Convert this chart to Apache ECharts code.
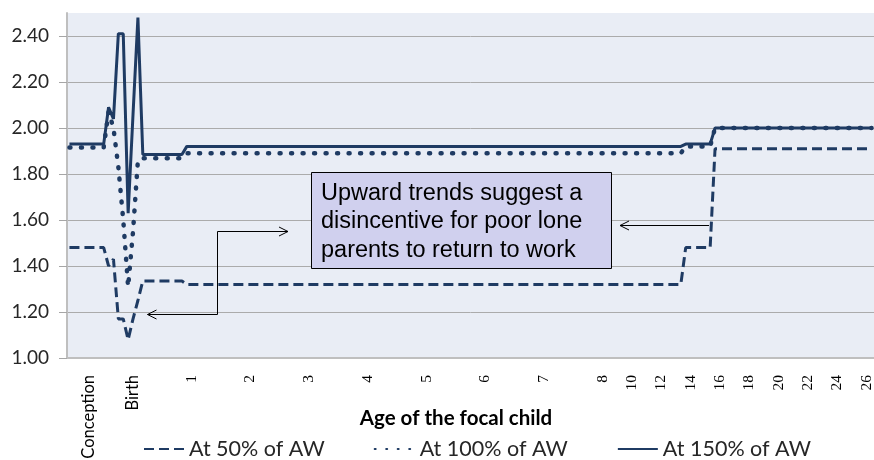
<!DOCTYPE html>
<html lang="en">
<head>
    <meta charset="UTF-8">
    <title>Age of the focal child</title>
    <script type="text/javascript" src="https://cdn.jsdelivr.net/npm/echarts@6/dist/echarts.min.js"></script>
    <style>
        html, body { margin: 0; padding: 0; background: #fff; }
        #main { width: 874px; height: 460px; }
    </style>
</head>
<body>
<div id="main"></div>
<script type="text/javascript">
    // x axis: one point a month up to age 8, then one every 4 months (ages in months from birth)
    var tickMonths = [-9, 0, 12, 24, 36, 48, 60, 72, 84, 96, 120, 144, 168, 192, 216, 240, 264, 288, 312];
    var tickLabels = ['Conception', 'Birth', '1', '2', '3', '4', '5', '6', '7', '8', '10', '12', '14', '16', '18', '20', '22', '24', '26'];

    var categories = [];
    for (var i = 0; i < 165; i++) {
        categories.push(String(i <= 109 ? i - 13 : 96 + (i - 109) * 4));
    }

    var at50 = [
        1.48, 1.48, 1.48, 1.48, 1.48, 1.48, 1.48, 1.48,
        1.40, 1.43, 1.17, 1.17, 1.08, 1.17, 1.25, 1.335,
        1.335, 1.335, 1.335, 1.335, 1.335, 1.335, 1.335, 1.335,
        1.32, 1.32, 1.32, 1.32, 1.32, 1.32, 1.32, 1.32, 1.32, 1.32, 1.32, 1.32, 1.32, 1.32, 1.32, 1.32, 1.32,
        1.32, 1.32, 1.32, 1.32, 1.32, 1.32, 1.32, 1.32, 1.32, 1.32, 1.32, 1.32, 1.32, 1.32, 1.32, 1.32, 1.32,
        1.32, 1.32, 1.32, 1.32, 1.32, 1.32, 1.32, 1.32, 1.32, 1.32, 1.32, 1.32, 1.32, 1.32, 1.32, 1.32, 1.32,
        1.32, 1.32, 1.32, 1.32, 1.32, 1.32, 1.32, 1.32, 1.32, 1.32, 1.32, 1.32, 1.32, 1.32, 1.32, 1.32, 1.32,
        1.32, 1.32, 1.32, 1.32, 1.32, 1.32, 1.32, 1.32, 1.32, 1.32, 1.32, 1.32, 1.32, 1.32, 1.32, 1.32, 1.32,
        1.32, 1.32, 1.32, 1.32, 1.32, 1.32, 1.32, 1.32, 1.32, 1.32, 1.32, 1.32, 1.32, 1.32, 1.32, 1.32, 1.32,
        1.48, 1.48, 1.48, 1.48, 1.48, 1.48,
        1.91, 1.91, 1.91, 1.91, 1.91, 1.91, 1.91, 1.91, 1.91, 1.91, 1.91,
        1.91, 1.91, 1.91, 1.91, 1.91, 1.91, 1.91, 1.91, 1.91, 1.91, 1.91,
        1.91, 1.91, 1.91, 1.91, 1.91, 1.91, 1.91, 1.91, 1.91, 1.91, 1.91
    ];

    var at100 = [
        1.915, 1.915, 1.915, 1.915, 1.915, 1.915, 1.915, 1.915,
        2.07, 2.00, 1.83, 1.60, 1.31, 1.55, 1.86, 1.868,
        1.868, 1.868, 1.868, 1.868, 1.868, 1.868, 1.868, 1.868,
        1.89, 1.89, 1.89, 1.89, 1.89, 1.89, 1.89, 1.89, 1.89, 1.89, 1.89, 1.89, 1.89, 1.89, 1.89, 1.89, 1.89,
        1.89, 1.89, 1.89, 1.89, 1.89, 1.89, 1.89, 1.89, 1.89, 1.89, 1.89, 1.89, 1.89, 1.89, 1.89, 1.89, 1.89,
        1.89, 1.89, 1.89, 1.89, 1.89, 1.89, 1.89, 1.89, 1.89, 1.89, 1.89, 1.89, 1.89, 1.89, 1.89, 1.89, 1.89,
        1.89, 1.89, 1.89, 1.89, 1.89, 1.89, 1.89, 1.89, 1.89, 1.89, 1.89, 1.89, 1.89, 1.89, 1.89, 1.89, 1.89,
        1.89, 1.89, 1.89, 1.89, 1.89, 1.89, 1.89, 1.89, 1.89, 1.89, 1.89, 1.89, 1.89, 1.89, 1.89, 1.89, 1.89,
        1.89, 1.89, 1.89, 1.89, 1.89, 1.89, 1.89, 1.89, 1.89, 1.89, 1.89, 1.89, 1.89, 1.89, 1.89, 1.89, 1.89,
        1.92, 1.92, 1.92, 1.92, 1.92, 1.92,
        2.00, 2.00, 2.00, 2.00, 2.00, 2.00, 2.00, 2.00, 2.00, 2.00, 2.00,
        2.00, 2.00, 2.00, 2.00, 2.00, 2.00, 2.00, 2.00, 2.00, 2.00, 2.00,
        2.00, 2.00, 2.00, 2.00, 2.00, 2.00, 2.00, 2.00, 2.00, 2.00, 2.00
    ];

    var at150 = [
        1.93, 1.93, 1.93, 1.93, 1.93, 1.93, 1.93, 1.93,
        2.09, 2.04, 2.41, 2.41, 1.63, 2.06, 2.48, 1.885,
        1.885, 1.885, 1.885, 1.885, 1.885, 1.885, 1.885, 1.885,
        1.92, 1.92, 1.92, 1.92, 1.92, 1.92, 1.92, 1.92, 1.92, 1.92, 1.92, 1.92, 1.92, 1.92, 1.92, 1.92, 1.92,
        1.92, 1.92, 1.92, 1.92, 1.92, 1.92, 1.92, 1.92, 1.92, 1.92, 1.92, 1.92, 1.92, 1.92, 1.92, 1.92, 1.92,
        1.92, 1.92, 1.92, 1.92, 1.92, 1.92, 1.92, 1.92, 1.92, 1.92, 1.92, 1.92, 1.92, 1.92, 1.92, 1.92, 1.92,
        1.92, 1.92, 1.92, 1.92, 1.92, 1.92, 1.92, 1.92, 1.92, 1.92, 1.92, 1.92, 1.92, 1.92, 1.92, 1.92, 1.92,
        1.92, 1.92, 1.92, 1.92, 1.92, 1.92, 1.92, 1.92, 1.92, 1.92, 1.92, 1.92, 1.92, 1.92, 1.92, 1.92, 1.92,
        1.92, 1.92, 1.92, 1.92, 1.92, 1.92, 1.92, 1.92, 1.92, 1.92, 1.92, 1.92, 1.92, 1.92, 1.92, 1.92, 1.92,
        1.93, 1.93, 1.93, 1.93, 1.93, 1.93,
        2.00, 2.00, 2.00, 2.00, 2.00, 2.00, 2.00, 2.00, 2.00, 2.00, 2.00,
        2.00, 2.00, 2.00, 2.00, 2.00, 2.00, 2.00, 2.00, 2.00, 2.00, 2.00,
        2.00, 2.00, 2.00, 2.00, 2.00, 2.00, 2.00, 2.00, 2.00, 2.00, 2.00
    ];

    var lineColor = '#1f3b63';
    var sans = 'Lato, "Open Sans", sans-serif';

    var myChart = echarts.init(document.getElementById('main'), null, {renderer: 'canvas'});

    // open arrow head helper for the annotation connectors
    function head(x, y, dir) {
        return {
            type: 'polyline',
            silent: true,
            z: 10,
            shape: {points: [[x - dir * 9, y - 4.5], [x, y], [x - dir * 9, y + 4.5]]},
            style: {stroke: '#000', lineWidth: 1, fill: null}
        };
    }

    var option = {
        animation: false,
        grid: {
            left: 67, right: 0, top: 13, bottom: 102,
            outerBoundsMode: 'none',
            containLabel: false,
            show: true, backgroundColor: '#e9edf5', borderWidth: 0
        },
        legend: {
            left: 143, top: 438,
            padding: 0,
            itemWidth: 40, itemHeight: 14, itemGap: 49,
            itemStyle: {opacity: 0},
            textStyle: {fontFamily: sans, fontSize: 21.5, color: '#262626'},
            data: ['At 50% of AW', 'At 100% of AW', 'At 150% of AW']
        },
        xAxis: {
            type: 'category',
            data: categories,
            boundaryGap: true,
            name: 'Age of the focal child',
            nameLocation: 'middle',
            nameGap: 50,
            nameMoveOverlap: false,
            nameTextStyle: {fontFamily: sans, fontSize: 20.5, fontWeight: 'bold', color: '#000', padding: [0, 29, 0, 0]},
            axisLine: {lineStyle: {color: '#bfbfbf', width: 2}},
            axisTick: {show: false},
            axisLabel: {
                interval: 0,
                rotate: 90,
                margin: 17,
                hideOverlap: false,
                formatter: function (v) {
                    var k = tickMonths.indexOf(Number(v));
                    if (k < 0) return '';
                    return k < 2 ? '{s|' + tickLabels[k] + '}' : '{n|' + tickLabels[k] + '}';
                },
                rich: {
                    s: {fontFamily: sans, fontSize: 16.5, color: '#000'},
                    n: {fontFamily: '"Liberation Serif", serif', fontSize: 15.5, color: '#000'}
                }
            },
            splitLine: {show: false}
        },
        yAxis: {
            type: 'value',
            min: 1, max: 2.5, interval: 0.2,
            axisLine: {show: true, lineStyle: {color: '#bfbfbf', width: 2}},
            axisTick: {show: true, length: 8, lineStyle: {color: '#a6a6a6'}},
            axisLabel: {
                margin: 18,
                showMaxLabel: false,
                fontFamily: sans, fontSize: 19, color: '#262626',
                formatter: function (v) { return v.toFixed(2); }
            },
            splitLine: {show: true, showMaxLine: false, lineStyle: {color: '#ababab', width: 1}}
        },
        series: [
            {
                name: 'At 50% of AW',
                type: 'line',
                data: at50,
                symbol: 'none',
                z: 2,
                lineStyle: {color: lineColor, width: 3, type: [10, 5]},
                itemStyle: {color: lineColor}
            },
            {
                name: 'At 100% of AW',
                type: 'line',
                data: at100,
                symbol: 'none',
                z: 4,
                lineStyle: {color: lineColor, width: 4.5, type: [1, 10.5], cap: 'round'},
                itemStyle: {color: lineColor}
            },
            {
                name: 'At 150% of AW',
                type: 'line',
                data: at150,
                symbol: 'none',
                z: 3,
                lineStyle: {color: lineColor, width: 3},
                itemStyle: {color: lineColor}
            }
        ],
        graphic: [
            // text box
            {
                type: 'rect', silent: true, z: 10,
                shape: {x: 311.5, y: 172.5, width: 300, height: 96},
                style: {fill: '#d0d0ee', stroke: '#000', lineWidth: 1}
            },
            {
                type: 'text', silent: true, z: 11,
                style: {
                    x: 321, y: 179,
                    text: 'Upward trends suggest a\ndisincentive for poor lone\nparents to return to work',
                    font: '23.5px "Liberation Sans", Arial, sans-serif',
                    lineHeight: 28.5,
                    fill: '#000',
                    verticalAlign: 'top'
                }
            },
            // connector from the age 14-16 step to the box
            {
                type: 'polyline', silent: true, z: 10,
                shape: {points: [[709, 225.5], [620, 225.5]]},
                style: {stroke: '#000', lineWidth: 1, fill: null}
            },
            head(620, 225.5, -1),
            // elbow connector from the dip after birth to the box
            {
                type: 'polyline', silent: true, z: 10,
                shape: {points: [[288, 231.5], [217.5, 231.5], [217.5, 314.5], [147.5, 314.5]]},
                style: {stroke: '#000', lineWidth: 1, fill: null}
            },
            head(288, 231.5, 1),
            head(147.5, 314.5, -1)
        ]
    };

    myChart.setOption(option);
</script>
</body>
</html>
